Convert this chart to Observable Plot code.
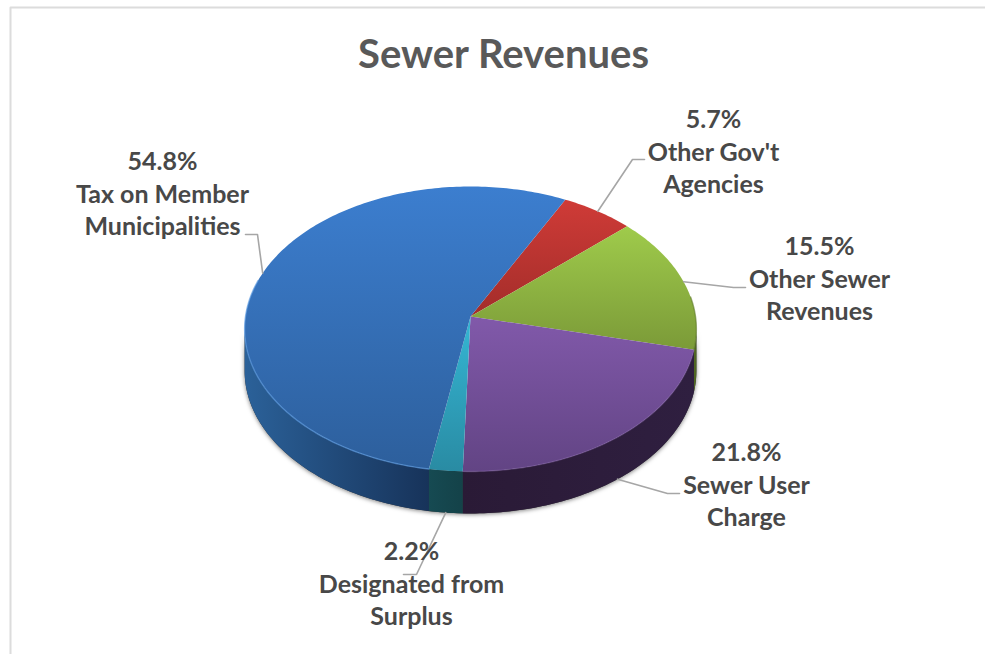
<!DOCTYPE html>
<html>
<head>
<meta charset="utf-8">
<script src="https://cdn.jsdelivr.net/npm/d3@7"></script>
<script src="https://cdn.jsdelivr.net/npm/@observablehq/plot@0.6"></script>
<style>
  html, body { margin: 0; padding: 0; background: #fff; }
  svg { display: block; }
</style>
</head>
<body>
<script>
// ---- Data (clockwise from the 27 degree start) ----
const categories = ["Other Gov't\nAgencies", "Other Sewer\nRevenues", "Sewer User\nCharge", "Designated from\nSurplus", "Tax on Member\nMunicipalities"];
const shares = [5.7, 15.5, 21.8, 2.2, 54.8];
const slug = ["gov", "other", "user", "surplus", "tax"];
const title = "Sewer Revenues";

// ---- Styles ----
const topStops = [["#cf3b37", "#a32d2a"], ["#9fcb4b", "#7b9a38"], ["#8159aa", "#624484"], ["#35b6d4", "#298ba3"], ["#3c7ecf", "#2d5f9c"]];
const wallStops = [["#7a1f1c", "#7a1f1c"], ["#4f6522", "#4f6522"], ["#2a1a36", "#2f1f40"], ["#164a52", "#144249"], ["#2b6199", "#17335a"]];
const rimColors = [null, "#5f7a2a", "#8f6db5", null, "#5c9be2"];
const rimOpacity = [0, 0.6, 0.35, 0, 0.65];

// ---- Pie geometry in screen units of the x/y scales ----
const centre = {x: 470, y: 316};
const radius = {x: 225, y: 141.4};
const tilt = 0.0876, depth = 42, startDeg = 27;
const visibleFrom = 95, visibleTo = 265;

function project(deg, r = 1, drop = 0) {
  const t = deg * Math.PI / 180;
  const u = r * Math.sin(t), v = -r * Math.cos(t);
  const s = 1 / (1 - tilt * v);
  return {x: centre.x + radius.x * u * s, y: centre.y + radius.y * v * s + drop};
}
function arc(a0, a1, drop = 0) {
  const n = Math.max(2, Math.ceil(Math.abs(a1 - a0)));
  return d3.range(n + 1).map(i => project(a0 + (a1 - a0) * i / n, 1, drop));
}

let acc = startDeg;
const slices = categories.map((label, i) => {
  const a0 = acc, a1 = acc + shares[i] * 3.6;
  acc = a1;
  return {label, share: shares[i], id: slug[i], i, a0, a1, mid: (a0 + a1) / 2};
});

// Top face polygons and wall polygons are computed from the shares
const faces = slices.map(s => [project(0, 0), ...arc(s.a0, s.a1), project(0, 0)]);
const wallParts = slices.flatMap(s => {
  const a0 = Math.max(s.a0, visibleFrom), a1 = Math.min(s.a1, visibleTo);
  if (a1 <= a0) return [];
  return [{s, pts: [...arc(a0, a1), ...arc(a1, a0, depth)]}];
});
const rimSpan = {other: [82, null], user: [null, null], tax: [null, 285]};
const rims = slices.filter(s => rimColors[s.i]).map(s => {
  const span = rimSpan[s.id] || [null, null];
  return {s, pts: arc(span[0] ?? s.a0, span[1] ?? s.a1)};
});

// Label layout: block centre, elbow and leader end
const layout = {
  gov:     {x: 713, y: 150, elbow: [632, 159], end: [644, 159], drop: 0},
  other:   {x: 819, y: 277, elbow: [733, 287], end: [745, 287], drop: 0},
  user:    {x: 746, y: 483, elbow: [667, 493], end: [679, 493], drop: depth},
  surplus: {x: 411, y: 582, elbow: [416, 574], end: [403, 574], drop: depth},
  tax:     {x: 162, y: 192, elbow: [257, 234], end: [245, 234], drop: 0}
};
const labels = slices.map(s => ({
  x: layout[s.id].x, y: layout[s.id].y,
  text: `${s.share.toFixed(1)}%\n${s.label}`
}));
const leaders = slices.map(s => {
  const L = layout[s.id], p = project(s.mid, 1, L.drop);
  return [p, {x: L.elbow[0], y: L.elbow[1]}, {x: L.end[0], y: L.end[1]}];
});

// Gradient definitions
function defs() {
  const d = d3.create("svg:defs");
  const add = (id, stops, horizontal) => {
    const g = d.append("linearGradient").attr("id", id)
      .attr("x1", 0).attr("y1", 0).attr("x2", horizontal ? 1 : 0).attr("y2", horizontal ? 0 : 1);
    g.append("stop").attr("offset", 0).attr("stop-color", stops[0]);
    g.append("stop").attr("offset", 1).attr("stop-color", stops[1]);
  };
  slices.forEach(s => {
    add("top-" + s.id, topStops[s.i], false);
    add("wall-" + s.id, wallStops[s.i], true);
  });
  return d.node();
}

const frameLines = [
  [{x: 10, y: 654}, {x: 10, y: 7}, {x: 985, y: 7}]
];

const font = "Lato, Carlito, 'Open Sans', sans-serif";

const chart = Plot.plot({
  width: 985,
  height: 654,
  margin: 0,
  x: {domain: [0, 985], range: [0, 985], axis: null},
  y: {domain: [0, 654], range: [0, 654], axis: null},
  style: {background: "#fff", fontFamily: font},
  marks: [
    defs,
    ...frameLines.map(l => Plot.line(l, {x: "x", y: "y", stroke: "#dcdcdc", strokeWidth: 2})),
    // walls, with soft outer shadow
    Plot.line([...arc(visibleFrom, visibleTo), ...arc(visibleTo, visibleFrom, depth)], {
      x: "x", y: "y", fill: "#333", stroke: "none",
      imageFilter: "drop-shadow(0px 1px 2px rgba(0,0,0,0.5))"
    }),
    ...wallParts.map(w => Plot.line([...w.pts, w.pts[0]], {
      x: "x", y: "y", fill: `url(#wall-${w.s.id})`, stroke: "none"
    })),
    // top faces
    ...faces.map((pts, i) => Plot.line(pts, {
      x: "x", y: "y", fill: `url(#top-${slices[i].id})`, stroke: "none"
    })),
    // bevel rim
    ...rims.map(r => Plot.line(r.pts, {
      x: "x", y: "y", stroke: rimColors[r.s.i], strokeWidth: 1.4, strokeOpacity: rimOpacity[r.s.i]
    })),
    // leader lines
    ...leaders.map(l => Plot.line(l, {x: "x", y: "y", stroke: "#a6a6a6", strokeWidth: 1.6})),
    // labels
    Plot.text(labels, {
      x: "x", y: "y", text: "text", fontSize: 25, fontWeight: 700,
      lineHeight: 1.3, textAnchor: "middle", fill: "#484848", fontFamily: font
    }),
    Plot.text([title], {
      x: () => 503, y: () => 55, text: d => d, fontSize: 40, fontWeight: 700,
      textAnchor: "middle", fill: "#595959", fontFamily: font
    })
  ]
});
document.body.appendChild(chart);
</script>
</body>
</html>
